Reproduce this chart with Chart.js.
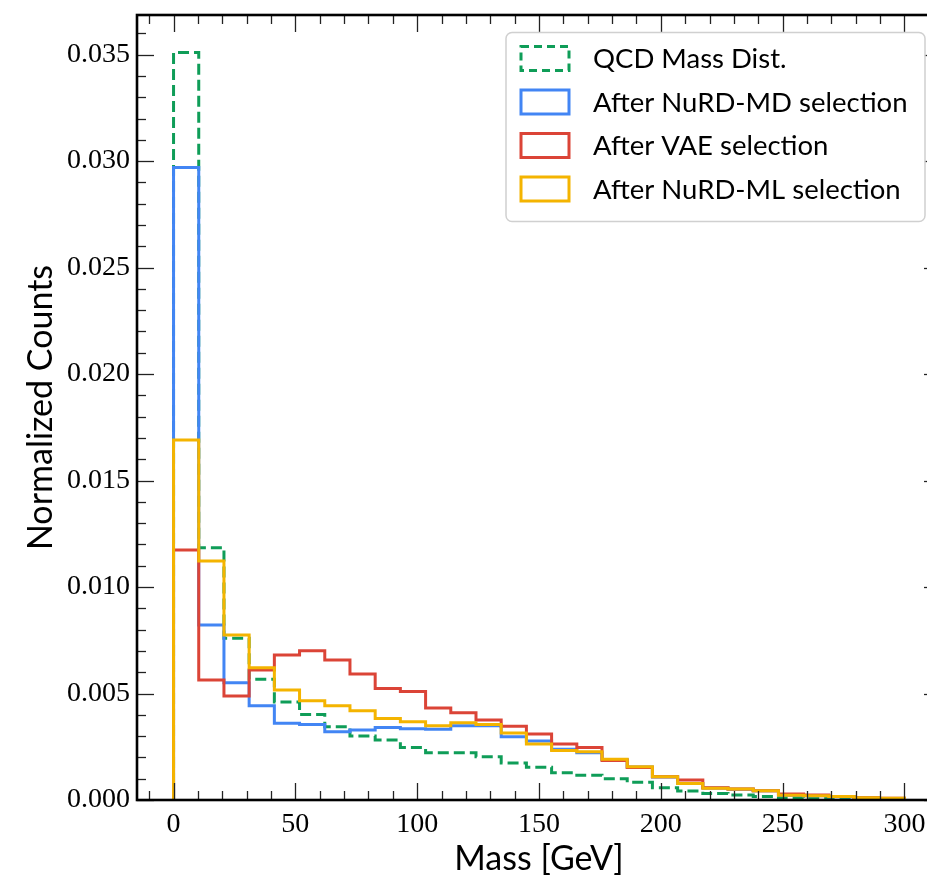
<!DOCTYPE html>
<html>
<head>
<meta charset="utf-8">
<script src="https://cdn.jsdelivr.net/npm/chart.js@4.4.0/dist/chart.umd.min.js"></script>
<style>
  html, body { margin: 0; padding: 0; background: #fff; overflow: hidden; }
  #wrap { width: 960px; height: 877px; }
</style>
</head>
<body>
<div id="wrap"><canvas id="chart" width="960" height="877"></canvas></div>
<script>
// bin edges (GeV), 29 bins between 0 and 300
const binEdges = [0, 10.34, 20.69, 31.03, 41.38, 51.72, 62.07, 72.41, 82.76, 93.10,
  103.45, 113.79, 124.14, 134.48, 144.83, 155.17, 165.52, 175.86, 186.21, 196.55,
  206.90, 217.24, 227.59, 237.93, 248.28, 258.62, 268.97, 279.31, 289.66, 300];

const qcdCounts = [0.0351, 0.01185, 0.00759, 0.00567, 0.0046, 0.00402, 0.00344, 0.0030, 0.00282, 0.00246,
  0.00222, 0.00222, 0.00203, 0.00174, 0.00154, 0.00128, 0.00116, 0.0010, 0.00083, 0.00058,
  0.00042, 0.00031, 0.00023, 0.00016, 0.0001, 0.00008, 0.00005, 0.00003, 0.00002];
const nurdMDCounts = [0.0297, 0.00822, 0.00551, 0.00443, 0.0036, 0.00355, 0.00321, 0.00329, 0.0034, 0.00335,
  0.00332, 0.00349, 0.00349, 0.00297, 0.00277, 0.00238, 0.00222, 0.0019, 0.00155, 0.00108,
  0.00078, 0.00056, 0.0005, 0.00043, 0.00022, 0.0002, 0.00015, 0.0001, 0.00007];
const vaeCounts = [0.01174, 0.00563, 0.00488, 0.0061, 0.00681, 0.00701, 0.00657, 0.00592, 0.00523, 0.0051,
  0.00432, 0.0041, 0.00376, 0.00346, 0.0031, 0.00263, 0.00247, 0.00185, 0.00153, 0.00109,
  0.00094, 0.00058, 0.00052, 0.00044, 0.00028, 0.00023, 0.00016, 0.0001, 0.00008];
const nurdMLCounts = [0.0169, 0.01122, 0.00775, 0.00621, 0.00516, 0.00466, 0.00443, 0.00419, 0.00383, 0.00368,
  0.00349, 0.00363, 0.00355, 0.00315, 0.00263, 0.00232, 0.00227, 0.00191, 0.00156, 0.00109,
  0.00078, 0.00055, 0.00052, 0.00044, 0.00022, 0.0002, 0.00016, 0.0001, 0.00008];

const xTickValues = [0, 50, 100, 150, 200, 250, 300];
const yTickValues = [0, 0.005, 0.010, 0.015, 0.020, 0.025, 0.030, 0.035];

// step outline like matplotlib histtype='step'
function stepPoints(counts) {
  const pts = [{ x: binEdges[0], y: 0 }];
  counts.forEach((c, i) => pts.push({ x: binEdges[i], y: c }));
  pts.push({ x: binEdges[binEdges.length - 1], y: 0 });
  return pts;
}

function histSet(label, counts, color, order, dash) {
  return {
    label: label,
    data: stepPoints(counts),
    borderColor: color,
    backgroundColor: color,
    borderWidth: 3,
    borderDash: dash || [],
    stepped: 'before',
    pointRadius: 0,
    fill: false,
    order: order
  };
}

const frameAndLegend = {
  id: 'frameAndLegend',
  afterDraw(chart) {
    const { ctx, chartArea: a, scales: { x, y } } = chart;
    ctx.save();

    // inward ticks on all four sides
    ctx.strokeStyle = '#222';
    ctx.lineWidth = 1.3;
    const tick = (x1, y1, x2, y2) => { ctx.beginPath(); ctx.moveTo(x1, y1); ctx.lineTo(x2, y2); ctx.stroke(); };
    for (let v = -10; v <= 310; v += 10) {
      const px = Math.round(x.getPixelForValue(v)) + 0.5;
      const len = v % 50 === 0 ? 17 : 9;
      tick(px, a.bottom, px, a.bottom - len);
      tick(px, a.top, px, a.top + len);
    }
    for (let k = 0; k <= 36; k++) {
      const v = k * 0.001;
      const py = Math.round(y.getPixelForValue(v)) + 0.5;
      const len = k % 5 === 0 ? 17 : 9;
      tick(a.left, py, a.left + len, py);
      tick(a.right, py, a.right - len, py);
    }

    // frame
    ctx.strokeStyle = '#000';
    ctx.lineWidth = 2.6;
    ctx.strokeRect(a.left, a.top, a.right - a.left, a.bottom - a.top);

    // legend
    const bx = a.right - 435, by = a.top + 17.5, bw = 419, bh = 189;
    ctx.beginPath();
    ctx.roundRect(bx, by, bw, bh, 6);
    ctx.fillStyle = 'rgba(255,255,255,0.85)';
    ctx.fill();
    ctx.strokeStyle = '#d0d0d0';
    ctx.lineWidth = 1.5;
    ctx.stroke();

    ctx.font = '27.5px Lato';
    ctx.textBaseline = 'middle';
    chart.data.datasets.forEach((ds, i) => {
      const cy = by + 26 + i * 43.5;
      ctx.strokeStyle = ds.borderColor;
      ctx.lineWidth = 3;
      ctx.setLineDash(ds.borderDash.length ? [8, 5] : []);
      ctx.strokeRect(bx + 15, cy - 12, 48, 24);
      ctx.setLineDash([]);
      ctx.fillStyle = '#000';
      ctx.fillText(ds.label, bx + 87, cy + 1);
    });
    ctx.restore();
  }
};

new Chart(document.getElementById('chart').getContext('2d'), {
  type: 'line',
  data: {
    datasets: [
      histSet('QCD Mass Dist.', qcdCounts, '#0F9D58', 4, [11, 5]),
      histSet('After NuRD-MD selection', nurdMDCounts, '#4285F4', 3),
      histSet('After VAE selection', vaeCounts, '#DB4437', 2),
      histSet('After NuRD-ML selection', nurdMLCounts, '#F4B400', 1)
    ]
  },
  options: {
    responsive: false,
    animation: false,
    layout: { padding: { left: 0, top: 15, right: 19, bottom: 0 } },
    plugins: { legend: { display: false }, tooltip: { enabled: false } },
    scales: {
      x: {
        type: 'linear',
        min: -15,
        max: 315,
        grid: { display: false, drawTicks: false },
        border: { display: false },
        afterBuildTicks: s => { s.ticks = xTickValues.map(v => ({ value: v })); },
        afterFit: s => { s.height = 77; s.paddingLeft = 0; s.paddingRight = 0; },
        ticks: { color: '#000', padding: 8, maxRotation: 0, font: { family: 'Liberation Serif', size: 28 } },
        title: { display: true, text: 'Mass [GeV]', color: '#000', padding: 0,
                 font: { family: 'Lato', size: 34, lineHeight: 1.05 } }
      },
      y: {
        type: 'linear',
        min: 0,
        max: 0.03686,
        grid: { display: false, drawTicks: false },
        border: { display: false },
        afterBuildTicks: s => { s.ticks = yTickValues.map(v => ({ value: v })); },
        afterFit: s => { s.width = 137; s.paddingTop = 0; s.paddingBottom = 0; },
        ticks: { color: '#000', padding: 7, font: { family: 'Liberation Serif', size: 28 },
                 callback: v => v.toFixed(3) },
        title: { display: true, text: 'Normalized Counts', color: '#000', padding: 21,
                 font: { family: 'Lato', size: 34, lineHeight: 1.2 } }
      }
    }
  },
  plugins: [frameAndLegend]
});
</script>
</body>
</html>
